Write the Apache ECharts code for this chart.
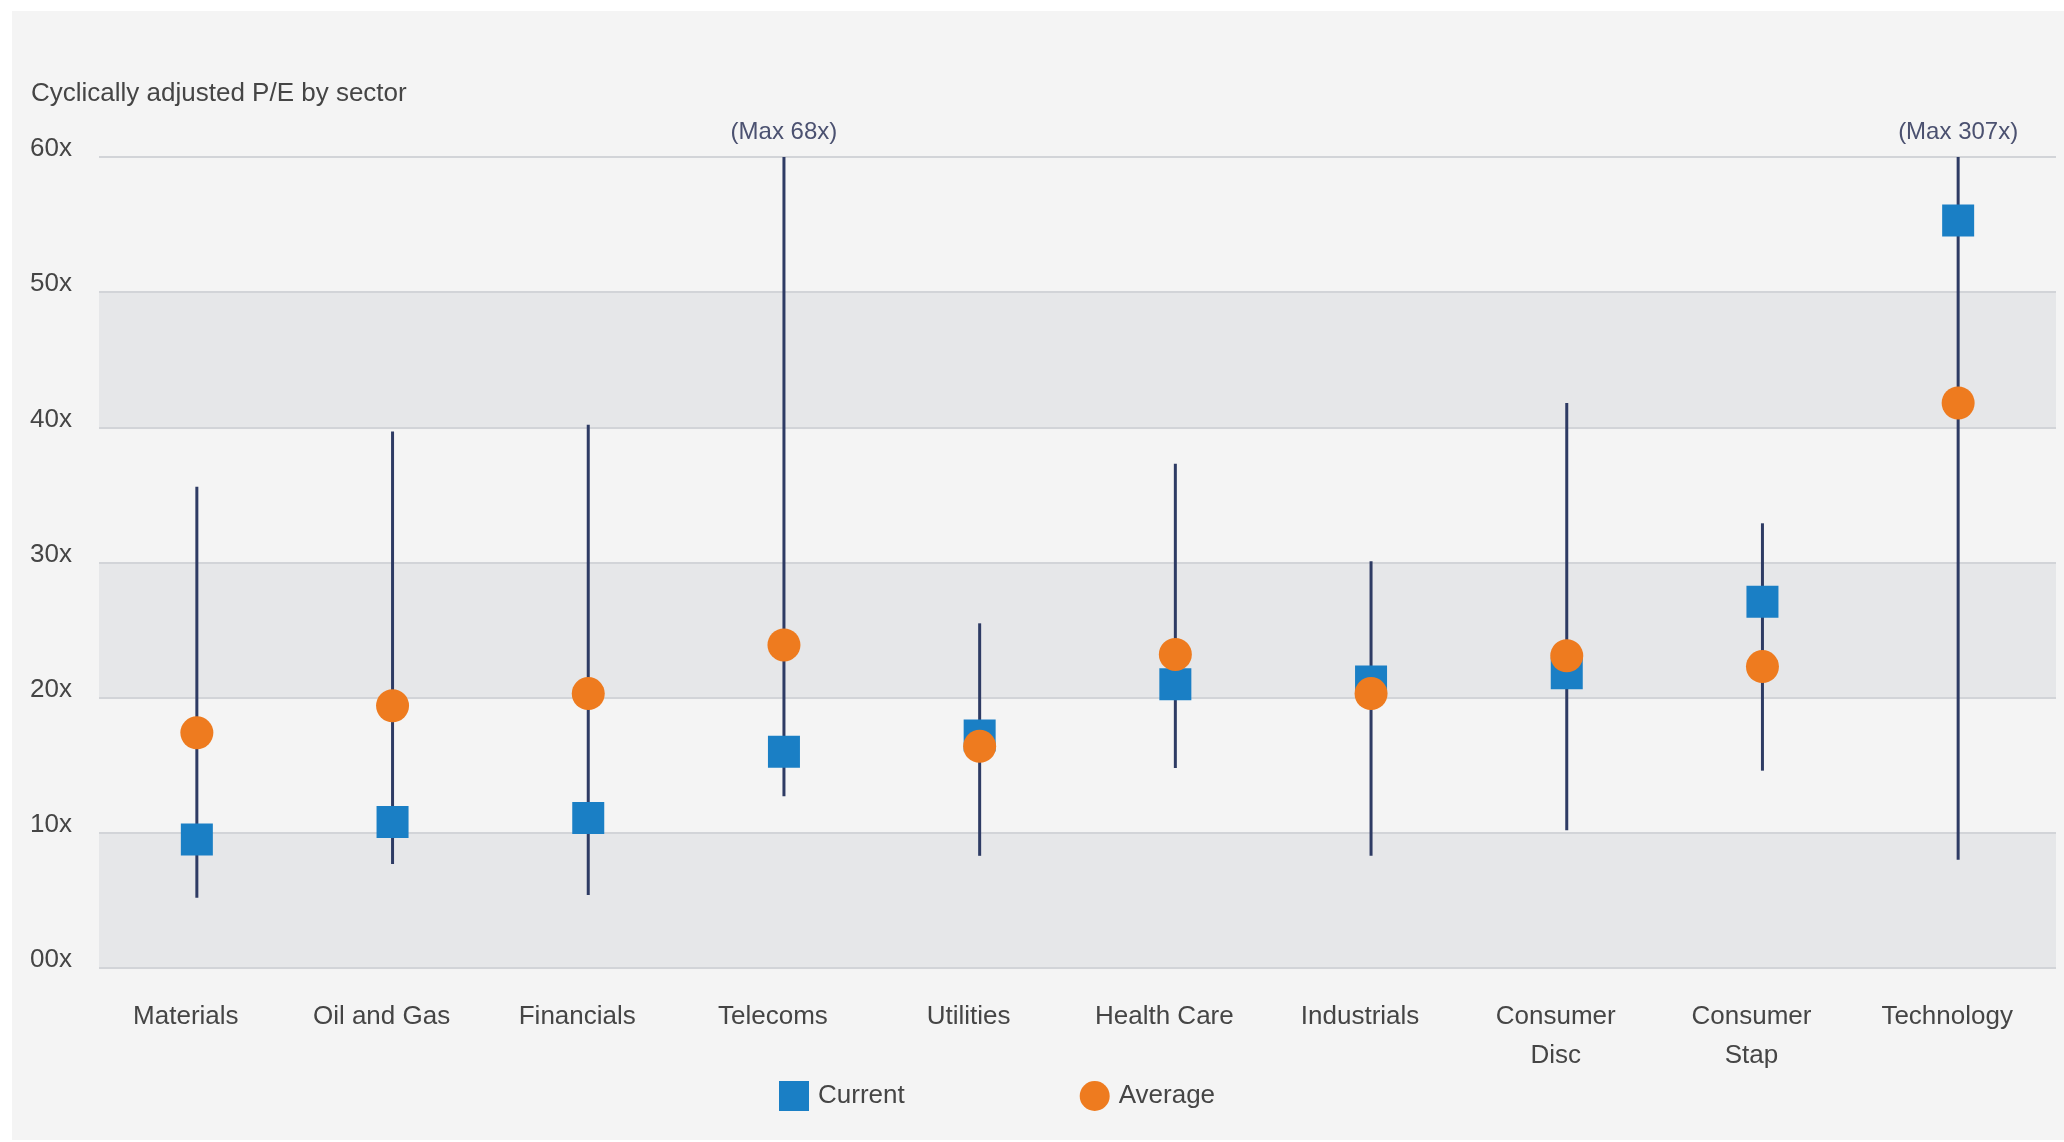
<!DOCTYPE html>
<html>
<head>
<meta charset="utf-8">
<title>Cyclically adjusted P/E by sector</title>
<script src="https://cdn.jsdelivr.net/npm/echarts@6/dist/echarts.min.js"></script>
<style>
  html, body { margin: 0; padding: 0; background: #ffffff; }
  #panel { position: absolute; left: 12px; top: 11px; width: 2052px; height: 1129px; background: #f4f4f4; }
  #chart { position: absolute; left: 0; top: 0; width: 2064px; height: 1142px; }
</style>
</head>
<body>
<div id="panel"></div>
<div id="chart"></div>
<script>
// Sectors along the x axis
const categories = ['Materials', 'Oil and Gas', 'Financials', 'Telecoms', 'Utilities',
  'Health Care', 'Industrials', 'Consumer\nDisc', 'Consumer\nStap', 'Technology'];

// Historical range of the cyclically adjusted P/E (low / high)
const rangeLow  = [5.2, 7.7, 5.4, 12.7, 8.3, 14.8, 8.3, 10.2, 14.6, 8.0];
const rangeHigh = [35.6, 39.7, 40.2, 68, 25.5, 37.3, 30.1, 41.8, 32.9, 307];

// Current and long-run average P/E
const current = [9.5, 10.8, 11.1, 16.0, 17.2, 21.0, 21.2, 21.8, 27.1, 55.3];
const average = [17.4, 19.4, 20.3, 23.9, 16.4, 23.2, 20.3, 23.1, 22.3, 41.8];

// Value axis
const yMin = 0, yMax = 60, yStep = 10;
const yTickLabels = ['00x', '10x', '20x', '30x', '40x', '50x', '60x'];

const FONT = '"Liberation Sans", Arial, sans-serif';
const TEXT = '#454545';
const RANGE_LINE = '#2e3b64';

const chart = echarts.init(document.getElementById('chart'), null, { renderer: 'canvas' });

const option = {
  backgroundColor: 'transparent',
  animation: false,
  title: {
    text: 'Cyclically adjusted P/E by sector',
    left: 26, top: 76,
    textStyle: { fontFamily: FONT, fontSize: 26, fontWeight: 'normal', color: TEXT }
  },
  legend: {
    left: 774, top: 1076,
    itemWidth: 30, itemHeight: 30, itemGap: 175,
    textStyle: { fontFamily: FONT, fontSize: 26, color: TEXT, padding: [0, 0, 0, 4] },
    data: [
      { name: 'Current', icon: 'rect' },
      { name: 'Average', icon: 'circle' }
    ]
  },
  grid: { left: 99, right: 8, top: 157, bottom: 174, containLabel: false },
  xAxis: {
    type: 'category',
    data: categories,
    boundaryGap: true,
    axisLine: { show: false },
    axisTick: { show: false },
    axisLabel: {
      fontFamily: FONT, fontSize: 26, color: TEXT,
      margin: 29, lineHeight: 39, padding: [0, 22, 0, 0], interval: 0
    },
    splitLine: { show: false }
  },
  yAxis: {
    type: 'value',
    min: yMin, max: yMax, interval: yStep,
    axisLine: { show: false },
    axisTick: { show: false },
    axisLabel: {
      fontFamily: FONT, fontSize: 26, color: TEXT,
      align: 'left', verticalAlign: 'bottom', margin: 69,
      lineHeight: 16,
      formatter: (v) => yTickLabels[Math.round((v - yMin) / yStep)]
    },
    splitLine: { show: true, lineStyle: { color: '#d2d4d8', width: 2 } },
    splitArea: { show: true, areaStyle: { color: ['#e6e7e9', '#f4f4f4'] } }
  },
  series: [
    {
      name: 'Range',
      type: 'custom',
      z: 2,
      clip: false,
      data: categories.map((c, i) => [i, rangeLow[i], rangeHigh[i]]),
      renderItem: function (params, api) {
        const idx = api.value(0);
        const lo = api.value(1);
        const hi = api.value(2);
        const top = api.coord([idx, Math.min(hi, yMax)]);
        const bot = api.coord([idx, lo]);
        const children = [{
          type: 'line',
          shape: { x1: top[0], y1: top[1], x2: bot[0], y2: bot[1] },
          style: { stroke: RANGE_LINE, lineWidth: 3 }
        }];
        if (hi > yMax) {
          children.push({
            type: 'text',
            x: top[0], y: top[1] - 25,
            style: {
              text: '(Max ' + hi + 'x)',
              fontFamily: FONT, fontSize: 24, fill: '#4b5170',
              align: 'center', verticalAlign: 'middle'
            }
          });
        }
        return { type: 'group', children: children };
      }
    },
    {
      name: 'Current',
      type: 'scatter',
      z: 3,
      symbol: 'rect',
      symbolSize: 32,
      itemStyle: { color: '#1a7fc5', opacity: 1 },
      data: current
    },
    {
      name: 'Average',
      type: 'scatter',
      z: 4,
      symbol: 'circle',
      symbolSize: 33,
      itemStyle: { color: '#ee7b1f', opacity: 1 },
      data: average
    }
  ]
};

chart.setOption(option);
</script>
</body>
</html>
